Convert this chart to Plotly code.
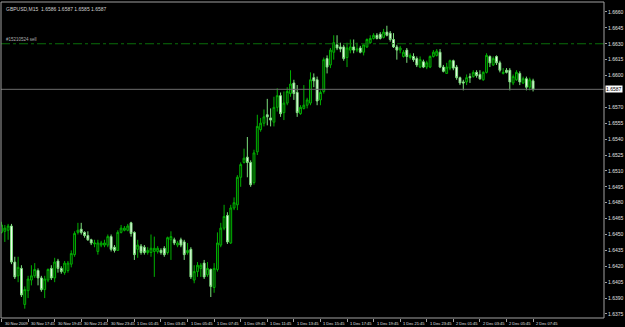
import plotly.graph_objects as go

# ---- data (GBPUSD, M15, 30 Nov 2009 15:45 -> 2 Dec 2009 07:45) ----
open_ = [1.6452,1.6453,1.6454,1.6458,1.6424,1.6411,1.6418,1.6384,1.6397,1.6407,
         1.6411,1.6416,1.6409,1.6398,1.6407,1.6418,1.6409,1.6425,1.6418,1.6414,
         1.6416,1.6422,1.6431,1.6452,1.6455,1.6452,1.6449,1.6445,1.6441,1.6434,
         1.6440,1.6440,1.6440,1.6448,1.6438,1.6435,1.6452,1.6454,1.6454,1.6461,
         1.6452,1.6436,1.6439,1.6438,1.6433,1.6433,1.6434,1.6434,1.6435,1.6437,
         1.6433,1.6445,1.6445,1.6440,1.6445,1.6443,1.6433,1.6436,1.6407,1.6415,
         1.6418,1.6423,1.6412,1.6417,1.6400,1.6417,1.6440,1.6456,1.6468,1.6442,
         1.6475,1.6478,1.6504,1.6518,1.6523,1.6518,1.6499,1.6528,1.6549,1.6555,
         1.6563,1.6560,1.6556,1.6570,1.6581,1.6565,1.6574,1.6583,1.6593,1.6584,
         1.6564,1.6569,1.6572,1.6574,1.6598,1.6596,1.6577,1.6585,1.6616,1.6610,
         1.6622,1.6629,1.6627,1.6627,1.6617,1.6624,1.6627,1.6624,1.6626,1.6622,
         1.6627,1.6631,1.6635,1.6638,1.6639,1.6636,1.6641,1.6640,1.6634,1.6627,
         1.6624,1.6618,1.6624,1.6617,1.6618,1.6616,1.6608,1.6613,1.6608,1.6608,
         1.6618,1.6619,1.6622,1.6608,1.6602,1.6607,1.6614,1.6608,1.6598,1.6594,
         1.6594,1.6599,1.6599,1.6603,1.6601,1.6596,1.6603,1.6618,1.6610,1.6618,
         1.6612,1.6602,1.6605,1.6605,1.6593,1.6596,1.6602,1.6593,1.6597,1.6589,
         1.6595]
high = [1.6462,1.6459,1.6460,1.6460,1.6429,1.6429,1.6421,1.6401,1.6411,1.6421,
        1.6423,1.6418,1.6411,1.6411,1.6418,1.6421,1.6428,1.6427,1.6420,1.6425,
        1.6425,1.6435,1.6453,1.6461,1.6461,1.6453,1.6453,1.6446,1.6445,1.6445,
        1.6444,1.6445,1.6450,1.6450,1.6440,1.6454,1.6459,1.6458,1.6460,1.6462,
        1.6453,1.6445,1.6441,1.6440,1.6438,1.6450,1.6448,1.6439,1.6437,1.6439,
        1.6448,1.6453,1.6447,1.6444,1.6447,1.6445,1.6442,1.6438,1.6421,1.6424,
        1.6423,1.6426,1.6424,1.6418,1.6423,1.6452,1.6461,1.6478,1.6471,1.6478,
        1.6485,1.6506,1.6518,1.6531,1.6542,1.6520,1.6530,1.6563,1.6560,1.6568,
        1.6578,1.6569,1.6580,1.6588,1.6584,1.6585,1.6589,1.6605,1.6596,1.6591,
        1.6572,1.6591,1.6579,1.6603,1.6602,1.6599,1.6586,1.6617,1.6619,1.6626,
        1.6638,1.6638,1.6631,1.6629,1.6631,1.6634,1.6634,1.6631,1.6628,1.6629,
        1.6635,1.6638,1.6640,1.6640,1.6641,1.6644,1.6647,1.6642,1.6640,1.6629,
        1.6628,1.6624,1.6626,1.6621,1.6621,1.6618,1.6618,1.6615,1.6614,1.6619,
        1.6624,1.6625,1.6625,1.6610,1.6612,1.6615,1.6615,1.6610,1.6599,1.6596,
        1.6601,1.6602,1.6605,1.6605,1.6605,1.6604,1.6621,1.6619,1.6618,1.6619,
        1.6614,1.6607,1.6607,1.6607,1.6601,1.6605,1.6604,1.6599,1.6599,1.6598,
        1.6597]
low = [1.6451,1.6443,1.6445,1.6422,1.6408,1.6405,1.6391,1.6380,1.6390,1.6402,
       1.6409,1.6402,1.6396,1.6390,1.6405,1.6407,1.6405,1.6414,1.6413,1.6412,
       1.6414,1.6419,1.6429,1.6450,1.6450,1.6447,1.6444,1.6440,1.6438,1.6431,
       1.6438,1.6438,1.6438,1.6434,1.6433,1.6435,1.6451,1.6453,1.6453,1.6448,
       1.6426,1.6428,1.6431,1.6431,1.6431,1.6429,1.6410,1.6432,1.6431,1.6429,
       1.6431,1.6426,1.6440,1.6438,1.6438,1.6426,1.6431,1.6408,1.6404,1.6410,
       1.6410,1.6408,1.6410,1.6391,1.6395,1.6415,1.6438,1.6454,1.6441,1.6441,
       1.6473,1.6473,1.6495,1.6517,1.6504,1.6495,1.6497,1.6525,1.6547,1.6552,
       1.6553,1.6552,1.6552,1.6566,1.6561,1.6558,1.6572,1.6580,1.6577,1.6561,
       1.6563,1.6568,1.6569,1.6572,1.6589,1.6572,1.6572,1.6583,1.6602,1.6607,
       1.6615,1.6624,1.6622,1.6614,1.6608,1.6621,1.6621,1.6622,1.6621,1.6619,
       1.6626,1.6630,1.6634,1.6634,1.6634,1.6635,1.6637,1.6632,1.6626,1.6615,
       1.6621,1.6617,1.6612,1.6615,1.6613,1.6608,1.6607,1.6607,1.6606,1.6607,
       1.6617,1.6618,1.6607,1.6603,1.6602,1.6605,1.6605,1.6596,1.6591,1.6586,
       1.6591,1.6593,1.6598,1.6598,1.6596,1.6595,1.6602,1.6608,1.6609,1.6610,
       1.6603,1.6601,1.6602,1.6586,1.6591,1.6595,1.6591,1.6592,1.6586,1.6586,
       1.6585]
close = [1.6459,1.6456,1.6458,1.6424,1.6410,1.6419,1.6393,1.6398,1.6408,1.6411,
         1.6417,1.6409,1.6398,1.6408,1.6417,1.6409,1.6424,1.6418,1.6415,1.6423,
         1.6423,1.6432,1.6451,1.6454,1.6452,1.6449,1.6445,1.6442,1.6442,1.6442,
         1.6442,1.6442,1.6448,1.6436,1.6435,1.6452,1.6456,1.6456,1.6458,1.6451,
         1.6431,1.6440,1.6433,1.6433,1.6435,1.6437,1.6437,1.6437,1.6433,1.6431,
         1.6447,1.6448,1.6442,1.6442,1.6440,1.6431,1.6435,1.6410,1.6415,1.6421,
         1.6421,1.6410,1.6418,1.6401,1.6418,1.6442,1.6456,1.6467,1.6443,1.6475,
         1.6480,1.6504,1.6516,1.6522,1.6518,1.6497,1.6527,1.6552,1.6555,1.6561,
         1.6561,1.6558,1.6570,1.6581,1.6564,1.6574,1.6585,1.6592,1.6583,1.6565,
         1.6570,1.6572,1.6577,1.6596,1.6595,1.6576,1.6584,1.6615,1.6608,1.6624,
         1.6631,1.6626,1.6625,1.6616,1.6626,1.6627,1.6624,1.6625,1.6622,1.6629,
         1.6634,1.6635,1.6638,1.6635,1.6635,1.6641,1.6638,1.6634,1.6627,1.6624,
         1.6626,1.6622,1.6618,1.6619,1.6615,1.6610,1.6615,1.6608,1.6612,1.6618,
         1.6622,1.6623,1.6608,1.6604,1.6608,1.6614,1.6607,1.6598,1.6593,1.6593,
         1.6598,1.6598,1.6603,1.6600,1.6597,1.6603,1.6619,1.6612,1.6616,1.6612,
         1.6605,1.6603,1.6603,1.6594,1.6599,1.6603,1.6594,1.6597,1.6589,1.6596,
         1.6587]

time_labels = ["30 Nov 2009", "30 Nov 17:45", "30 Nov 19:45", "30 Nov 21:45", "30 Nov 23:45",
               "1 Dec 01:45", "1 Dec 03:45", "1 Dec 05:45", "1 Dec 07:45", "1 Dec 09:45",
               "1 Dec 11:45", "1 Dec 13:45", "1 Dec 15:45", "1 Dec 17:45", "1 Dec 19:45",
               "1 Dec 21:45", "1 Dec 23:45", "2 Dec 01:45", "2 Dec 03:45", "2 Dec 05:45",
               "2 Dec 07:45"]
label_step = 8  # one label every 8 bars (2 hours on M15)

price_ticks = [1.6375, 1.6390, 1.6405, 1.6420, 1.6435, 1.6450, 1.6465, 1.6480, 1.6495,
               1.6510, 1.6525, 1.6540, 1.6555, 1.6570, 1.6600, 1.6615, 1.6630, 1.6645, 1.6660]

bid_price = 1.6587
order_price = 1.6630
header = "GBPUSD,M15  1.6586 1.6587 1.6585 1.6587"
order_text = "#15210524 sell"

x = list(range(len(close)))

GREEN = "#00b000"
FONT = "Liberation Sans"

fig = go.Figure()
fig.add_trace(go.Candlestick(
    x=x, open=open_, high=high, low=low, close=close,
    increasing=dict(line=dict(color=GREEN, width=1), fillcolor="#002200"),
    decreasing=dict(line=dict(color="#7ee07e", width=1), fillcolor="#ffffff"),
    whiskerwidth=0, showlegend=False, hoverinfo="skip",
))

# bid line
fig.add_shape(type="line", xref="paper", x0=0, x1=1, yref="y", y0=bid_price, y1=bid_price,
              line=dict(color="#6e6e6e", width=1))
# order line
fig.add_shape(type="line", xref="paper", x0=0, x1=1, yref="y", y0=order_price, y1=order_price,
              line=dict(color="#0a6e0a", width=1, dash="dashdot"))
# frame
fig.add_shape(type="rect", xref="paper", yref="paper", x0=0, x1=1, y0=0, y1=1,
              line=dict(color="#a0a0a0", width=1))

annotations = []
for k, lab in enumerate(time_labels):
    annotations.append(dict(x=k * label_step, xref="x", y=0, yref="paper", yshift=-5,
                            text=lab, showarrow=False, xanchor="left", yanchor="middle",
                            xshift=1, font=dict(color="#e0e0e0", size=4, family=FONT)))
annotations.append(dict(x=1, xref="paper", y=bid_price, yref="y", text="1.6587",
                        showarrow=False, xanchor="left", yanchor="middle", xshift=1,
                        bgcolor="#ffffff", font=dict(color="#000000", size=5, family=FONT),
                        borderpad=0))
annotations.append(dict(x=0, xref="paper", y=1, yref="paper", text=header, showarrow=False,
                        xanchor="left", yanchor="top", xshift=3, yshift=-2,
                        font=dict(color="#d0d0d0", size=5, family=FONT)))
annotations.append(dict(x=0, xref="paper", y=order_price, yref="y", text=order_text,
                        showarrow=False, xanchor="left", yanchor="bottom", xshift=3, yshift=0,
                        font=dict(color="#b0b0b0", size=4.5, family=FONT)))

fig.update_layout(
    width=625, height=327,
    margin=dict(l=1, r=16, t=2, b=9),
    paper_bgcolor="#000000", plot_bgcolor="#000000",
    boxgap=0.2,
    xaxis=dict(range=[-0.15, 181.35], rangeslider=dict(visible=False), showgrid=False,
               zeroline=False, showticklabels=False,
               tickmode="array", tickvals=[k * label_step for k in range(len(time_labels))],
               ticks="outside", ticklen=3, tickcolor="#a0a0a0", fixedrange=True),
    yaxis=dict(side="right", range=[1.63712, 1.66694], showgrid=False, zeroline=False,
               tickmode="array", tickvals=price_ticks, tickformat=".4f",
               ticks="outside", ticklen=2, tickcolor="#a0a0a0",
               tickfont=dict(color="#e0e0e0", size=5, family=FONT),
               showline=False, fixedrange=True),
    annotations=annotations,
    font=dict(family=FONT),
)

fig.write_html("out.html")
